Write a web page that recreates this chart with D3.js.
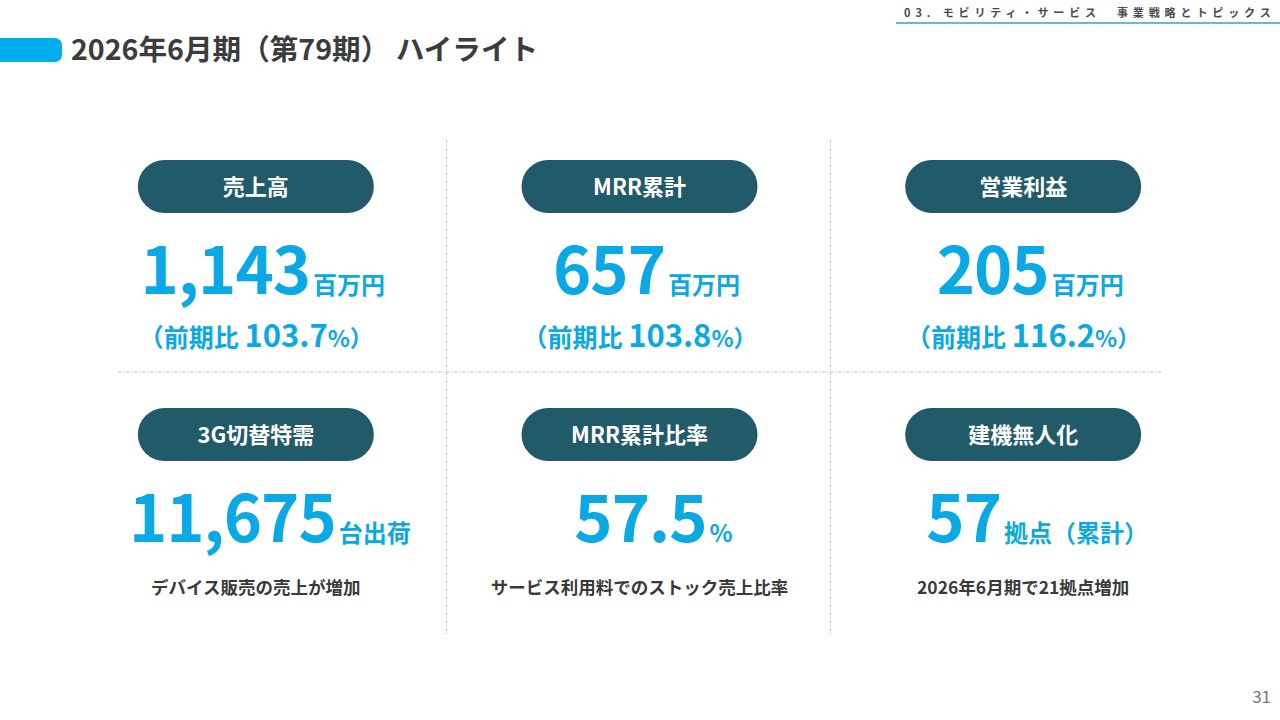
<!DOCTYPE html>
<html>
<head>
<meta charset="utf-8">
<script src="https://cdn.jsdelivr.net/npm/d3@7"></script>
<style>
  html, body { margin: 0; padding: 0; background: #fff; }
  svg text { font-family: "Noto Sans CJK JP", "Noto Sans", sans-serif; }
</style>
</head>
<body>
<div id="chart"></div>
<script>
// slide data
var labels = ["売上高", "MRR累計", "営業利益", "3G切替特需", "MRR累計比率", "建機無人化"];
var values = ["1,143", "657", "205", "11,675", "57.5", "57"];
var units = ["百万円", "百万円", "百万円", "台出荷", "%", "拠点（累計）"];
var yoyRates = ["103.7", "103.8", "116.2"];
var notes = ["デバイス販売の売上が増加", "サービス利用料でのストック売上比率", "2026年6月期で21拠点増加"];

var W = 1280, H = 720,
    blue = "#0aa9e6",
    pill = "#215a69",
    dark = "#3c3c3c";

var svg = d3.select("#chart")
    .append("svg")
    .attr("width", W)
    .attr("height", H);

// header bar + title
svg.append("rect")
    .attr("x", -12).attr("y", 38)
    .attr("width", 74).attr("height", 24)
    .attr("rx", 7)
    .attr("fill", "#00aeef");

svg.append("text")
    .attr("x", 71).attr("y", 60)
    .attr("font-size", 28.6).attr("font-weight", 700)
    .attr("fill", dark)
    .text("2026年6月期（第79期） ハイライト");

// section label top right
svg.append("text")
    .attr("x", 904).attr("y", 17)
    .attr("font-size", 11).attr("font-weight", 700)
    .attr("letter-spacing", 4.9)
    .attr("fill", "#4a4a4a")
    .text("03. モビリティ・サービス　事業戦略とトピックス");
svg.append("line")
    .attr("x1", 896).attr("x2", 1280)
    .attr("y1", 23).attr("y2", 23)
    .attr("stroke", "#2aa8c0").attr("stroke-width", 1.5);

svg.append("text")
    .attr("x", 1271).attr("y", 703)
    .attr("text-anchor", "end")
    .attr("font-family", "Roboto, sans-serif")
    .attr("font-size", 17)
    .attr("fill", "#777")
    .text("31");

// grid scales
var col = d3.scaleBand().domain([0, 1, 2]).range([64, 1215]);
var row = d3.scaleBand().domain([0, 1]).range([140, 636]);

// dotted dividers
var grid = svg.append("g")
    .attr("stroke", "#b3bccb")
    .attr("stroke-width", 1)
    .attr("stroke-dasharray", "3,2,1,2");

grid.selectAll(".vline")
    .data([1, 2])
    .enter().append("line")
    .attr("class", "vline")
    .attr("x1", function(d) { return col(d) - 1; })
    .attr("x2", function(d) { return col(d) - 1; })
    .attr("y1", row(0))
    .attr("y2", row(1) + row.bandwidth());

grid.append("line")
    .attr("x1", 118).attr("x2", 1162)
    .attr("y1", row(1) - 16).attr("y2", row(1) - 16);

// cells
var cells = svg.selectAll(".cell")
    .data(labels)
    .enter().append("g")
    .attr("class", "cell")
    .attr("transform", function(d, i) {
        return "translate(" + (col(i % 3) + col.bandwidth() / 2) + "," + row(Math.floor(i / 3)) + ")";
    });

cells.append("rect")
    .attr("x", -118).attr("y", 20)
    .attr("width", 236).attr("height", 53)
    .attr("rx", 26.5)
    .attr("fill", pill);

cells.append("text")
    .attr("y", 55)
    .attr("text-anchor", "middle")
    .attr("font-size", 22).attr("font-weight", 700)
    .attr("fill", "#fff")
    .text(function(d) { return d; });

// big value + unit
var big = cells.append("text")
    .attr("x", function(d, i) { return i < 3 ? 7 : 14; })
    .attr("y", 154)
    .attr("text-anchor", "middle")
    .attr("font-weight", 700)
    .attr("fill", blue);
big.append("tspan")
    .attr("font-size", 65)
    .attr("letter-spacing", -1)
    .text(function(d, i) { return values[i]; });
big.append("tspan")
    .attr("dx", 3)
    .attr("font-size", 24)
    .text(function(d, i) { return units[i]; });

// first row: year-on-year
var yoy = cells.filter(function(d, i) { return i < 3; })
    .append("text")
    .attr("y", 207)
    .attr("text-anchor", "middle")
    .attr("font-weight", 700)
    .attr("fill", blue);
yoy.append("tspan").attr("font-size", 25).text("（前期比 ");
yoy.append("tspan").attr("font-size", 31).text(function(d, i) { return yoyRates[i]; });
yoy.append("tspan").attr("font-size", 23).text("%）");

// second row: notes
cells.filter(function(d, i) { return i >= 3; })
    .append("text")
    .attr("y", 206)
    .attr("text-anchor", "middle")
    .attr("font-size", 17.5).attr("font-weight", 700)
    .attr("fill", "#3a3a3a")
    .text(function(d, i) { return notes[i]; });
</script>
</body>
</html>
